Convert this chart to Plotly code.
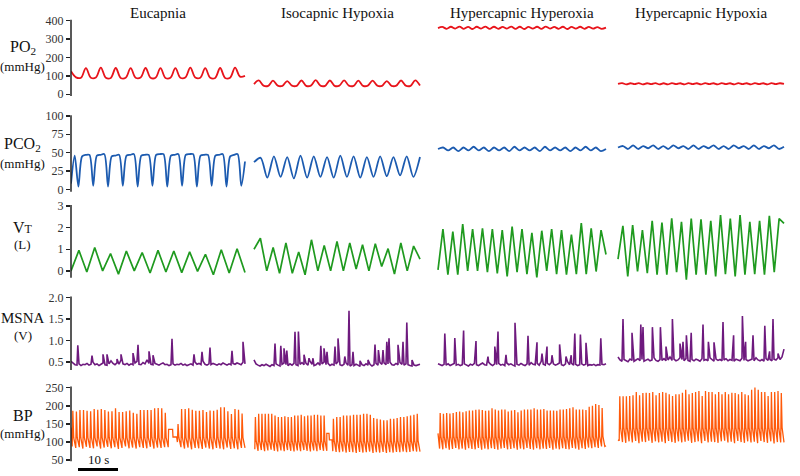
import plotly.graph_objects as go

# ---------------------------------------------------------------- data
CONDITIONS = ["Eucapnia", "Isocapnic Hypoxia", "Hypercapnic Hyperoxia", "Hypercapnic Hypoxia"]

# PO2 (mmHg): successive turning points of the trace (start, troughs/peaks, end)
PO2_EUC = [125, 92, 90, 142, 90, 91, 145, 90, 89, 143, 89, 90, 142, 90, 91, 143, 90, 90,
           142, 89, 90, 142, 90, 91, 145, 91, 90, 142, 90, 89, 143, 89, 90, 145, 96, 100]
PO2_ISO = [55, 75, 47, 46, 74, 47, 46, 72, 47, 46, 75, 46, 47, 77, 47, 46, 75, 46, 47, 76,
           47, 46, 74, 46, 47, 74, 47, 46, 72, 46, 47, 75, 47, 46, 76, 48]
PO2_HO = [360, 366, 356, 367, 357, 368, 356, 366, 355, 367, 357, 368, 356, 367, 356, 366,
          357, 368, 356, 367, 355, 366, 357, 367, 356, 368, 357, 366, 356, 367, 355, 366,
          357, 367, 356, 366, 357, 365, 356, 362]
PO2_HH = [57, 61, 54, 60, 55, 61, 54, 60, 55, 61, 54, 60, 54, 61, 55, 60, 54, 61, 55, 60,
          54, 61, 55, 60, 54, 61, 55, 60, 54, 61, 55, 60, 54, 61, 55, 60, 54, 61, 55, 60, 57]

# PCO2 (mmHg)
PCO2_EUC = [8, 46, 4,
            45, 47, 47, 5, 46, 47, 48, 4, 45, 46, 47, 5, 46, 47, 48, 4, 46, 47, 47, 5,
            47, 48, 48, 4, 46, 47, 48, 5, 47, 48, 48, 4, 46, 47, 47, 5, 46, 47, 48, 4,
            45, 47, 48, 5,
            38]
PCO2_ISO = [37, 43, 16, 45, 17, 44, 15, 46, 16, 45, 17, 44, 16, 46, 17, 45, 16, 44, 17,
            45, 18, 44, 19, 45, 17, 44]
PCO2_HO = [55, 57, 53, 57, 52, 57, 53, 58, 53, 57, 52, 57, 53, 57, 52, 58, 53, 57, 53, 57,
           52, 58, 53, 57, 53, 57, 52, 57, 53, 58, 53, 57, 52, 55]
PCO2_HH = [57, 59, 55, 60, 55, 59, 56, 60, 55, 59, 55, 60, 56, 59, 55, 60, 55, 59, 56, 60,
           55, 59, 55, 60, 56, 59, 55, 60, 55, 59, 56, 60, 55, 58]

# VT (L)
VT_EUC = [0.0, 0.95, -0.05, 1.08, 0.0, 0.8, -0.15, 0.92, 0.0, 0.85, -0.1, 0.95, -0.05,
          0.92, -0.08, 0.88, -0.02, 0.77, -0.18, 0.98, -0.1, 1.03, -0.08]
VT_ISO = [1.0, 1.51, 0.0, 1.08, -0.11, 1.3, -0.11, 0.88, -0.18, 1.44, 0.0, 1.18, 0.0,
          1.36, 0.0, 1.29, 0.09, 1.21, 0.0, 1.26, 0.2, 1.03, -0.15, 1.29, 0.0, 1.15, 0.55]
VT_HO = [0.05, 1.94, -0.18, 1.82, -0.18, 2.17, 0.0, 1.94, 0.0, 1.97, -0.06, 1.94, -0.12,
         1.89, -0.26, 2.05, -0.06, 1.94, -0.15, 1.76, -0.3, 1.86, 0.0, 1.94, -0.15, 1.89,
         -0.18, 1.68, -0.15, 2.21, -0.15, 1.97, -0.03, 1.89, 0.76]
VT_HH = [0.55, 2.09, -0.26, 2.12, -0.03, 1.89, -0.11, 2.32, -0.18, 2.24, -0.18, 2.44,
         -0.06, 2.27, -0.41, 2.42, -0.18, 2.39, -0.18, 2.32, -0.26, 2.58, -0.15, 2.42,
         -0.26, 2.58, -0.18, 2.27, -0.15, 2.32, -0.18, 2.55, -0.06, 2.42, 2.2]

# MSNA (V): baseline samples plus burst peaks (time in s within the panel, height)
MSNA_EUC_BASE = [0.52, 0.47, 0.44, 0.43, 0.46, 0.42, 0.45, 0.44, 0.47, 0.43,
                 0.45, 0.50, 0.44, 0.46, 0.42, 0.45, 0.48, 0.44, 0.43, 0.46,
                 0.53, 0.47, 0.44, 0.48, 0.45, 0.55, 0.46, 0.44, 0.47, 0.43,
                 0.46, 0.44, 0.48, 0.52, 0.45, 0.44, 0.49, 0.46, 0.55, 0.47,
                 0.45, 0.44, 0.47, 0.45, 0.43, 0.46, 0.48, 0.44, 0.45, 0.42,
                 0.44, 0.46, 0.43, 0.45, 0.44, 0.47, 0.43, 0.45, 0.42, 0.44,
                 0.46, 0.43, 0.50, 0.45, 0.47, 0.44, 0.52, 0.45, 0.43, 0.46,
                 0.44, 0.47, 0.45, 0.43, 0.46, 0.44, 0.48, 0.45, 0.43, 0.46,
                 0.44, 0.47, 0.45, 0.48, 0.46, 0.44, 0.50, 0.46]
MSNA_EUC_BURST_T = [1.7, 5.25, 8.0, 9.0, 11.5, 12.5, 15.5, 16.75, 19.5, 20.5, 25.25,
                    30.75, 32.75, 34.75, 40.25, 43.0]
MSNA_EUC_BURST_V = [0.89, 0.65, 0.68, 0.68, 0.57, 0.68, 0.71, 0.90, 0.75, 0.66, 1.04,
                    0.68, 0.74, 0.84, 0.76, 0.97]

MSNA_ISO_BASE = [0.55, 0.46, 0.43, 0.41, 0.44, 0.42, 0.45, 0.43, 0.40, 0.44,
                 0.42, 0.46, 0.43, 0.41, 0.45, 0.48, 0.44, 0.42, 0.46, 0.43,
                 0.47, 0.44, 0.42, 0.45, 0.49, 0.44, 0.47, 0.43, 0.52, 0.45,
                 0.42, 0.44, 0.48, 0.43, 0.46, 0.50, 0.44, 0.47, 0.42, 0.45,
                 0.43, 0.46, 0.51, 0.44, 0.42, 0.45, 0.48, 0.43, 0.41, 0.44,
                 0.42, 0.45, 0.43, 0.40, 0.44, 0.42, 0.46, 0.43, 0.45, 0.41,
                 0.44, 0.47, 0.43, 0.49, 0.45, 0.48, 0.44, 0.46, 0.50, 0.44,
                 0.43, 0.47, 0.44, 0.49, 0.45, 0.43, 0.46, 0.44, 0.42, 0.41,
                 0.43, 0.42, 0.44, 0.45]
MSNA_ISO_BURST_T = [5.25, 6.7, 7.5, 8.2, 10.25, 11.1, 12.5, 13.75, 14.75, 16.7,
                    17.5, 18.25, 20.25, 21.0, 22.7, 23.75, 24.75, 26.5, 28.5, 30.25,
                    31.1, 32.25, 33.2, 33.75, 36.0, 37.25, 38.2, 39.5]
MSNA_ISO_BURST_V = [0.93, 0.88, 0.82, 0.77, 1.20, 1.21, 0.67, 0.59, 0.59, 0.88,
                    0.82, 0.74, 0.86, 1.05, 0.63, 1.69, 0.74, 0.53, 0.55, 0.91,
                    0.78, 0.78, 0.97, 1.05, 0.90, 0.97, 1.42, 0.55]

MSNA_HO_BASE = [0.46, 0.44, 0.42, 0.45, 0.43, 0.46, 0.42, 0.44, 0.47, 0.43,
                0.45, 0.42, 0.44, 0.46, 0.43, 0.41, 0.45, 0.43, 0.47, 0.44,
                0.42, 0.45, 0.48, 0.44, 0.43, 0.50, 0.45, 0.42, 0.46, 0.44,
                0.47, 0.43, 0.45, 0.42, 0.48, 0.44, 0.46, 0.43, 0.41, 0.45,
                0.43, 0.47, 0.44, 0.42, 0.46, 0.43, 0.49, 0.45, 0.44, 0.47,
                0.43, 0.52, 0.45, 0.43, 0.47, 0.44, 0.49, 0.46, 0.43, 0.45,
                0.48, 0.44, 0.42, 0.46, 0.51, 0.44, 0.47, 0.43, 0.45, 0.42,
                0.44, 0.46, 0.43, 0.45, 0.42, 0.44, 0.43, 0.45, 0.42, 0.44,
                0.43, 0.45, 0.44, 0.46]
MSNA_HO_BURST_T = [1.7, 4.2, 6.4, 9.5, 12.5, 14.2, 15.0, 17.0, 19.25, 22.5, 24.75,
                   26.0, 27.25, 28.5, 30.4, 32.0, 33.3, 34.2, 35.6, 37.0, 40.7]
MSNA_HO_BURST_V = [1.16, 1.06, 1.23, 0.99, 0.63, 0.86, 1.21, 0.67, 1.41, 1.11, 0.96,
                   0.70, 0.86, 0.66, 0.91, 0.63, 0.66, 1.16, 1.14, 0.95, 1.05]

MSNA_HH_BASE = [0.62, 0.55, 0.52, 0.56, 0.53, 0.51, 0.57, 0.54, 0.52, 0.55,
                0.58, 0.53, 0.56, 0.52, 0.54, 0.57, 0.53, 0.55, 0.60, 0.54,
                0.52, 0.56, 0.54, 0.58, 0.53, 0.55, 0.62, 0.54, 0.57, 0.53,
                0.55, 0.60, 0.56, 0.53, 0.58, 0.54, 0.52, 0.56, 0.53, 0.57,
                0.55, 0.52, 0.58, 0.54, 0.56, 0.53, 0.60, 0.55, 0.52, 0.57,
                0.54, 0.56, 0.53, 0.55, 0.58, 0.53, 0.56, 0.54, 0.52, 0.57,
                0.55, 0.53, 0.59, 0.54, 0.56, 0.53, 0.55, 0.57, 0.53, 0.60,
                0.55, 0.53, 0.56, 0.52, 0.58, 0.54, 0.56, 0.53, 0.57, 0.55,
                0.60, 0.56, 0.62, 0.80]
MSNA_HH_BURST_T = [1.25, 3.5, 5.7, 6.25, 8.6, 10.6, 12.0, 13.6, 15.5, 16.25, 17.1, 18.3,
                   21.25, 22.6, 24.0, 26.25, 28.9, 31.1, 31.9, 33.75, 36.7, 37.9, 38.75, 40.0]
MSNA_HH_BURST_V = [1.50, 1.18, 1.37, 1.31, 1.31, 1.31, 0.86, 1.50, 0.93, 0.97, 1.12, 1.18,
                   1.37, 0.97, 0.96, 1.43, 1.12, 1.57, 0.97, 1.12, 1.34, 0.75, 1.50, 0.70]

# BP (mmHg): per-beat systolic and diastolic values, dicrotic-notch level
BP_EUC_START = 140
BP_EUC_SYS_A = [186, 184, 188, 188, 186, 185, 191, 189, 191, 188, 184, 185, 193, 183,
                183, 185, 187, 181, 178, 188, 188, 188, 188, 193, 194, 193, 181]
BP_EUC_DIA_A = [88, 84, 86, 82, 87, 84, 83, 88, 82, 85, 87, 83, 86, 81, 84, 88, 83, 85,
                82, 86, 84, 83, 87, 82, 85, 84, 86]
BP_EUC_PAUSE_T = [24.4, 25.4, 25.5, 26.4]
BP_EUC_PAUSE_V = [135, 135, 114, 114]
BP_EUC_SYS_B = [150, 191, 191, 193, 189, 186, 186, 188, 183, 187, 186, 189, 196, 196,
                185, 177, 191, 189, 179]
BP_EUC_DIA_B = [100, 86, 82, 85, 80, 84, 83, 81, 85, 82, 80, 84, 82, 80, 85, 81, 83, 80, 84]
BP_EUC_NOTCH = 112
BP_EUC_SEG_T = [0.3, 24.3, 26.6, 43.5]

BP_ISO_SYS_A = [169, 178, 178, 178, 178, 178, 173, 169, 169, 171, 169, 169, 173, 173,
                175, 171, 173, 173, 175, 175, 173, 173]
BP_ISO_DIA_A = [80, 76, 78, 75, 77, 79, 76, 74, 77, 75, 78, 76, 74, 77, 75, 78, 76, 74,
                77, 75, 78, 76]
BP_ISO_PAUSE_T = [18.2, 18.75, 18.85, 19.5]
BP_ISO_PAUSE_V = [124, 124, 106, 106]
BP_ISO_SYS_B = [164, 169, 169, 173, 173, 173, 175, 175, 175, 178, 178, 175, 166, 164,
                162, 160, 160, 164, 164, 166, 169, 169, 171, 173, 175, 178]
BP_ISO_DIA_B = [75, 73, 72, 74, 71, 73, 72, 70, 73, 71, 72, 74, 70, 72, 71, 73, 70, 72,
                71, 73, 72, 74, 72, 73, 75, 74]
BP_ISO_NOTCH = 104
BP_ISO_SEG_T = [0.2, 18.2, 19.7, 41.5]

BP_HO_START = 124
BP_HO_SYS = [180, 178, 180, 179, 180, 183, 184, 182, 185, 187, 187, 189, 190, 188, 186,
             187, 193, 190, 187, 190, 190, 184, 187, 188, 182, 187, 190, 190, 190, 193,
             190, 190, 191, 187, 187, 187, 186, 190, 190, 191, 193, 196, 190, 190, 190,
             188, 197, 200, 205, 202, 194]
BP_HO_DIA = [82, 80, 83, 79, 81, 84, 80, 82, 79, 83, 81, 80, 84, 79, 82, 80, 83, 81, 79,
             82, 84, 80, 81, 83, 79, 82, 80, 84, 81, 79, 83, 80, 82, 81, 84, 79, 82, 80,
             83, 81, 80, 84, 82, 79, 83, 81, 85, 83, 86, 84, 88]
BP_HO_NOTCH = 116
BP_HO_END = 90

BP_HH_START = 106
BP_HH_SYS = [226, 226, 226, 227, 229, 238, 229, 235, 236, 235, 238, 229, 235, 238, 236,
             232, 227, 232, 232, 236, 244, 232, 235, 238, 241, 227, 241, 238, 238, 232,
             238, 232, 238, 232, 236, 235, 232, 238, 232, 229, 244, 250, 244, 238, 238,
             227, 238, 238, 241, 235]
BP_HH_DIA = [104, 100, 98, 102, 99, 103, 97, 101, 100, 104, 98, 102, 99, 101, 97, 103,
             100, 98, 102, 99, 101, 104, 98, 100, 102, 97, 103, 99, 101, 100, 98, 102,
             104, 99, 101, 97, 103, 100, 98, 102, 99, 101, 97, 103, 100, 98, 102, 96,
             100, 99]
BP_HH_NOTCH = 140

ROW_LABELS = [("PO<sub>2</sub>", "(mmHg)"), ("PCO<sub>2</sub>", "(mmHg)"),
              ("V<span style='font-size:12px'>T</span>", "(L)"), ("MSNA", "(V)"),
              ("BP", "(mmHg)")]
TICKS = [[0, 100, 200, 300, 400], [0, 25, 50, 75, 100], [0, 1, 2, 3],
         [0.5, 1.0, 1.5, 2.0], [50, 100, 150, 200, 250]]
TICK_TEXT = [["0", "100", "200", "300", "400"], ["0", "25", "50", "75", "100"],
             ["0", "1", "2", "3"], ["0.5", "1.0", "1.5", "2.0"],
             ["50", "100", "150", "200", "250"]]
SCALE_BAR_S = 10

# ---------------------------------------------------------------- layout geometry
W, H = 800, 476
ML = 71
PX_PER_S = 4.0
PLOT_W = W - ML
PANEL_PX = [(71, 245), (254, 420), (438, 606), (618, 784)]
PANEL_T0 = [(a - ML) / PX_PER_S for a, b in PANEL_PX]
PANEL_LEN = [(b - a) / PX_PER_S for a, b in PANEL_PX]

# (pixel of value a, value a, pixel of value b, value b, range lo, range hi, spine lo, spine hi)
ROWS = [(91, 0, 16, 400, -25, 415, -10, 405),
        (188, 0, 113, 100, -5, 103, -3, 101),
        (271, 0, 205, 3, -0.5, 3.1, -0.32, 3.05),
        (364, 0.5, 298, 2.0, 0.3, 2.05, 0.32, 2.02),
        (464, 50, 390, 250, 40, 258, 47, 253)]

FONT = "Liberation Serif, Times New Roman, Tinos, DejaVu Serif, serif"
COLORS = ["#e8141b", "#1c5bb0", "#1f9a1f", "#6e1a7e", "#ff5a0a"]
WIDTHS = [1.8, 1.8, 1.7, 1.6, 1.3]


def even(vals, t0, length):
    n = len(vals)
    return [t0 + length * i / (n - 1) for i in range(n)], list(vals)


def beats(sys_v, dia_v, notch, t0, t1):
    n = len(sys_v)
    p = (t1 - t0) / n
    ts, vs = [], []
    for i in range(n):
        b = t0 + i * p
        ts += [b, b + 0.18 * p, b + 0.42 * p]
        vs += [dia_v[i], sys_v[i], notch]
    ts.append(t1)
    vs.append(dia_v[-1])
    return ts, vs


def msna(base, bt, bv, t0, length):
    n = len(base)
    pts = [(t0 + length * i / (n - 1), v) for i, v in enumerate(base)]
    pts += [(t0 + t, v) for t, v in zip(bt, bv)]
    pts.sort()
    return [p[0] for p in pts], [p[1] for p in pts]


fig = go.Figure()
yref = ["y", "y2", "y3", "y4", "y5"]


def add(row, ts, vs, shape="linear", smoothing=1.0):
    line = dict(color=COLORS[row], width=WIDTHS[row], shape=shape)
    if shape == "spline":
        line["smoothing"] = smoothing
    fig.add_trace(go.Scatter(x=ts, y=vs, mode="lines", line=line,
                             xaxis="x", yaxis=yref[row], hoverinfo="skip",
                             showlegend=False))


# PO2
for c, vals in enumerate([PO2_EUC, PO2_ISO, PO2_HO, PO2_HH]):
    add(0, *even(vals, PANEL_T0[c], PANEL_LEN[c]), shape="spline", smoothing=1.0)
# PCO2
for c, vals in enumerate([PCO2_EUC, PCO2_ISO, PCO2_HO, PCO2_HH]):
    add(1, *even(vals, PANEL_T0[c], PANEL_LEN[c]), shape="spline", smoothing=0.8)
# VT
for c, vals in enumerate([VT_EUC, VT_ISO, VT_HO, VT_HH]):
    add(2, *even(vals, PANEL_T0[c], PANEL_LEN[c]))
# MSNA
for c, (b, bt, bv) in enumerate([(MSNA_EUC_BASE, MSNA_EUC_BURST_T, MSNA_EUC_BURST_V),
                                 (MSNA_ISO_BASE, MSNA_ISO_BURST_T, MSNA_ISO_BURST_V),
                                 (MSNA_HO_BASE, MSNA_HO_BURST_T, MSNA_HO_BURST_V),
                                 (MSNA_HH_BASE, MSNA_HH_BURST_T, MSNA_HH_BURST_V)]):
    add(3, *msna(b, bt, bv, PANEL_T0[c], PANEL_LEN[c]))


# BP
def two_segment(t0, seg, sa, da, pt, pv, sb, db, notch, start=None):
    ts, vs = [], []
    if start is not None:
        ts.append(t0)
        vs.append(start)
    a_t, a_v = beats(sa, da, notch, t0 + seg[0], t0 + seg[1])
    ts += a_t
    vs += a_v
    ts += [t0 + t for t in pt]
    vs += list(pv)
    b_t, b_v = beats(sb, db, notch, t0 + seg[2], t0 + seg[3])
    ts += b_t
    vs += b_v
    return ts, vs


add(4, *two_segment(PANEL_T0[0], BP_EUC_SEG_T, BP_EUC_SYS_A, BP_EUC_DIA_A,
                    BP_EUC_PAUSE_T, BP_EUC_PAUSE_V, BP_EUC_SYS_B, BP_EUC_DIA_B,
                    BP_EUC_NOTCH, start=BP_EUC_START))
add(4, *two_segment(PANEL_T0[1], BP_ISO_SEG_T, BP_ISO_SYS_A, BP_ISO_DIA_A,
                    BP_ISO_PAUSE_T, BP_ISO_PAUSE_V, BP_ISO_SYS_B, BP_ISO_DIA_B,
                    BP_ISO_NOTCH))
t0, L = PANEL_T0[2], PANEL_LEN[2]
ts, vs = beats(BP_HO_SYS, BP_HO_DIA, BP_HO_NOTCH, t0 + 0.4, t0 + L - 0.3)
add(4, [t0] + ts + [t0 + L], [BP_HO_START] + vs + [BP_HO_END])
t0, L = PANEL_T0[3], PANEL_LEN[3]
ts, vs = beats(BP_HH_SYS, BP_HH_DIA, BP_HH_NOTCH, t0 + 0.3, t0 + L)
add(4, [t0] + ts, [BP_HH_START] + vs)

# axes
layout = dict(
    width=W, height=H, margin=dict(l=ML, r=0, t=0, b=0, pad=0),
    paper_bgcolor="white", plot_bgcolor="white", showlegend=False,
    font=dict(family=FONT, color="#222"),
    xaxis=dict(domain=[0, 1], range=[0, PLOT_W / PX_PER_S], visible=False,
               anchor="y5", fixedrange=True),
)
shapes = []
for r, (pa, va, pb, vb, lo, hi, slo, shi) in enumerate(ROWS):
    k = (pa - pb) / (vb - va)
    px_lo = pa + (va - lo) * k
    px_hi = pa - (hi - va) * k
    name = "yaxis" if r == 0 else f"yaxis{r + 1}"
    layout[name] = dict(
        domain=[(H - px_lo) / H, (H - px_hi) / H], range=[lo, hi], anchor="x",
        showgrid=False, zeroline=False, showline=False,
        tickmode="array", tickvals=TICKS[r], ticktext=TICK_TEXT[r],
        ticks="outside", ticklen=4, tickwidth=1.5, tickcolor="#222",
        tickfont=dict(family=FONT, size=12, color="#333"), fixedrange=True)
    shapes.append(dict(type="line", xref="paper", x0=0, x1=0, yref=yref[r],
                       y0=slo, y1=shi, line=dict(color="#222", width=1.5)))

# scale bar (10 s = 40 px)
bar_x0 = (78 - ML) / PLOT_W
bar_x1 = bar_x0 + SCALE_BAR_S * PX_PER_S / PLOT_W
shapes.append(dict(type="line", xref="paper", yref="paper", x0=bar_x0, x1=bar_x1,
                   y0=(H - 473.5) / H, y1=(H - 473.5) / H,
                   line=dict(color="black", width=3)))
layout["shapes"] = shapes

ann = []
for c, name in enumerate(CONDITIONS):
    ann.append(dict(text=name, x=PANEL_T0[c] + PANEL_LEN[c] / 2, xref="x",
                    y=(H - 8) / H, yref="paper", showarrow=False,
                    xanchor="center", yanchor="middle",
                    font=dict(family=FONT, size=15, color="#111")))
LABEL_Y = [(43, 63), (142, 162), (227, 244), (319, 337), (418, 437)]
LABEL_SIZE = [16, 16, 16, 15, 16]
for r, (main, unit) in enumerate(ROW_LABELS):
    ym, yu = LABEL_Y[r]
    ann.append(dict(text=main, x=(23 - ML) / PLOT_W, xref="paper", y=(H - ym) / H,
                    yref="paper", showarrow=False, xanchor="center", yanchor="middle",
                    font=dict(family=FONT, size=LABEL_SIZE[r], color="#111")))
    ann.append(dict(text=unit, x=(23 - ML) / PLOT_W, xref="paper", y=(H - yu) / H,
                    yref="paper", showarrow=False, xanchor="center", yanchor="middle",
                    font=dict(family=FONT, size=13, color="#111")))
ann.append(dict(text="10 s", x=(bar_x0 + bar_x1) / 2, xref="paper", y=(H - 463) / H,
                yref="paper", showarrow=False, xanchor="center", yanchor="middle",
                font=dict(family=FONT, size=13, color="#111")))
layout["annotations"] = ann

fig.update_layout(**layout)
fig.write_html("out.html",
               config={"displayModeBar": False, "staticPlot": True},
               post_script="document.body.style.margin='0';document.body.style.overflow='hidden';")
